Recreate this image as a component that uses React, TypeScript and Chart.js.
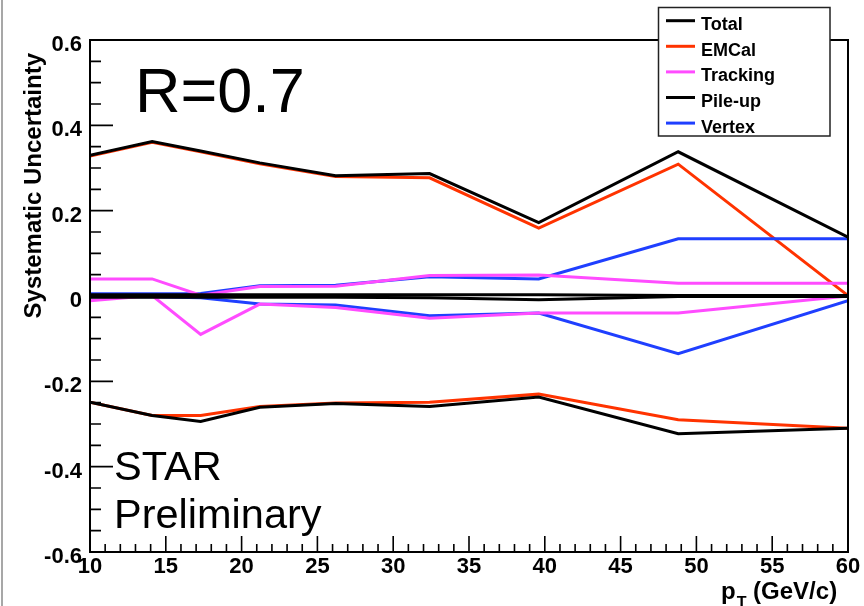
import React, { useEffect, useRef } from "react";
import { Chart, registerables } from "chart.js";

Chart.register(...registerables);

// ---- data ----
const ptValues = [10, 14.1, 17.3, 21.2, 26.2, 32.4, 39.6, 48.8, 60];

const totalHi = [0.33, 0.362, 0.34, 0.312, 0.282, 0.287, 0.172, 0.338, 0.138];
const emcalHi = [0.328, 0.36, 0.338, 0.31, 0.28, 0.277, 0.159, 0.309, 0.001];
const trackingHi = [0.04, 0.04, 0.002, 0.022, 0.023, 0.048, 0.049, 0.03, 0.03];
const pileupHi = [0.003, 0.003, 0.003, 0.003, 0.003, 0.003, 0.003, 0.001, 0.001];
const vertexHi = [0.005, 0.005, 0.006, 0.024, 0.025, 0.045, 0.04, 0.134, 0.134];

const totalLo = [-0.249, -0.28, -0.294, -0.261, -0.252, -0.259, -0.237, -0.323, -0.31];
const emcalLo = [-0.249, -0.28, -0.28, -0.259, -0.251, -0.249, -0.23, -0.29, -0.31];
const trackingLo = [-0.011, 0.001, -0.09, -0.019, -0.027, -0.052, -0.04, -0.04, 0.0];
const pileupLo = [-0.003, -0.003, -0.003, -0.003, -0.003, -0.004, -0.009, -0.001, -0.001];
const vertexLo = [-0.002, -0.002, -0.004, -0.019, -0.021, -0.046, -0.04, -0.135, -0.011];

const xTicks = [10, 15, 20, 25, 30, 35, 40, 45, 50, 55, 60];
const yTicks = [-0.6, -0.4, -0.2, 0, 0.2, 0.4, 0.6];

const legendLabels = ["Total", "EMCal", "Tracking", "Pile-up", "Vertex"];
const legendColors = ["#000000", "#ff3300", "#ff4cff", "#000000", "#1f3fff"];

const FONT = "'Liberation Sans', Arial, Helvetica, sans-serif";

const toPoints = (ys: number[]) => ptValues.map((x, i) => ({ x, y: ys[i] }));

const rootPlugin = {
  id: "rootDecor",
  afterDatasetsDraw(chart: any) {
    const { ctx, chartArea: a, scales } = chart;
    const x = scales.x;
    const y = scales.y;
    ctx.save();
    ctx.strokeStyle = "#000";
    ctx.lineWidth = 1.6;
    ctx.beginPath();
    // y ticks: major every 0.2, minor every 0.05
    for (let k = -12; k <= 12; k++) {
      const v = k * 0.05;
      const py = y.getPixelForValue(v);
      const len = k % 4 === 0 ? 23 : 11;
      ctx.moveTo(a.left, py);
      ctx.lineTo(a.left + len, py);
    }
    // x ticks: major every 5, minor every 1
    for (let v = 10; v <= 60; v++) {
      const px = x.getPixelForValue(v);
      const len = v % 5 === 0 ? 16 : 8;
      ctx.moveTo(px, a.bottom);
      ctx.lineTo(px, a.bottom - len);
    }
    ctx.stroke();
    ctx.lineWidth = 2;
    ctx.strokeRect(a.left, a.top, a.right - a.left, a.bottom - a.top);
    ctx.restore();
  },
  afterDraw(chart: any) {
    const { ctx } = chart;
    ctx.save();
    // left screenshot edge
    ctx.strokeStyle = "#8a8a8a";
    ctx.lineWidth = 1.5;
    ctx.beginPath();
    ctx.moveTo(2, 0);
    ctx.lineTo(2, 606);
    ctx.stroke();

    ctx.fillStyle = "#000";
    ctx.textBaseline = "alphabetic";
    ctx.textAlign = "left";
    ctx.font = `63px ${FONT}`;
    ctx.fillText("R=0.7", 135, 112);
    ctx.font = `41.5px ${FONT}`;
    ctx.fillText("STAR", 114, 480);
    ctx.fillText("Preliminary", 114, 528);

    // y axis title
    ctx.save();
    ctx.translate(41, 53);
    ctx.rotate(-Math.PI / 2);
    ctx.textAlign = "right";
    ctx.font = `bold 24px ${FONT}`;
    ctx.fillText("Systematic Uncertainty", 0, 0);
    ctx.restore();

    // x axis title
    ctx.textAlign = "left";
    ctx.font = `bold 24px ${FONT}`;
    let px = 721;
    ctx.fillText("p", px, 599);
    px += ctx.measureText("p").width;
    ctx.font = `bold 16px ${FONT}`;
    ctx.fillText("T", px + 1, 608);
    px += ctx.measureText("T").width + 1;
    ctx.font = `bold 24px ${FONT}`;
    ctx.fillText(" (GeV/c)", px, 599);

    // legend
    const lx = 658.5, ly = 7.5, lw = 171.5, lh = 128.5;
    ctx.fillStyle = "#fff";
    ctx.fillRect(lx, ly, lw, lh);
    ctx.font = `bold 18px ${FONT}`;
    ctx.textBaseline = "middle";
    legendLabels.forEach((lab, i) => {
      const cy = 20.7 + i * 25.6;
      ctx.strokeStyle = legendColors[i];
      ctx.lineWidth = 3;
      ctx.beginPath();
      ctx.moveTo(666, cy);
      ctx.lineTo(695, cy);
      ctx.stroke();
      ctx.fillStyle = "#000";
      ctx.fillText(lab, 701, cy + 4.5);
    });
    ctx.strokeStyle = "#222";
    ctx.lineWidth = 1.5;
    ctx.strokeRect(lx, ly, lw, lh);
    ctx.restore();
  },
};

export default function App() {
  const canvasRef = useRef<HTMLCanvasElement | null>(null);

  useEffect(() => {
    if (!canvasRef.current) return;
    const mk = (label: string, ys: number[], color: string, order: number) => ({
      label,
      data: toPoints(ys),
      borderColor: color,
      backgroundColor: color,
      borderWidth: 3,
      pointRadius: 0,
      tension: 0,
      fill: false,
      order,
    });
    const datasets = [
      mk("Total", totalHi, legendColors[0], 0),
      mk("Total", totalLo, legendColors[0], 0),
      mk("Pile-up", pileupHi, legendColors[3], 1),
      mk("Pile-up", pileupLo, legendColors[3], 1),
      mk("Tracking", trackingHi, legendColors[2], 2),
      mk("Tracking", trackingLo, legendColors[2], 2),
      mk("Vertex", vertexHi, legendColors[4], 3),
      mk("Vertex", vertexLo, legendColors[4], 3),
      mk("EMCal", emcalHi, legendColors[1], 4),
      mk("EMCal", emcalLo, legendColors[1], 4),
    ];
    const chart = new Chart(canvasRef.current, {
      type: "line",
      data: { datasets },
      plugins: [rootPlugin],
      options: {
        animation: false,
        responsive: false,
        layout: { padding: { left: 0, top: 40, right: 16, bottom: 0 } },
        plugins: { legend: { display: false }, tooltip: { enabled: false } },
        scales: {
          x: {
            type: "linear",
            min: 10,
            max: 60,
            grid: { display: false, drawTicks: false },
            border: { display: false },
            afterFit: (s: any) => {
              s.height = 54;
            },
            afterBuildTicks: (s: any) => {
              s.ticks = xTicks.map((v) => ({ value: v }));
            },
            ticks: {
              autoSkip: false,
              maxRotation: 0,
              padding: 2,
              color: "#000",
              font: { family: FONT, size: 22, weight: "bold" },
              callback: (v: any) => String(v),
            },
          },
          y: {
            type: "linear",
            min: -0.6,
            max: 0.6,
            grid: { display: false, drawTicks: false },
            border: { display: false },
            afterFit: (s: any) => {
              s.width = 90;
            },
            afterBuildTicks: (s: any) => {
              s.ticks = yTicks.map((v) => ({ value: v }));
            },
            ticks: {
              autoSkip: false,
              padding: 8,
              labelOffset: 5,
              color: "#000",
              font: { family: FONT, size: 22, weight: "bold" },
              callback: (v: any) => String(Math.round(Number(v) * 10) / 10),
            },
          },
        },
      },
    } as any);
    return () => chart.destroy();
  }, []);

  return (
    <div style={{ position: "absolute", left: 0, top: 0, width: 864, height: 606, background: "#fff" }}>
      <canvas ref={canvasRef} width={864} height={606} style={{ display: "block", width: 864, height: 606 }} />
    </div>
  );
}
